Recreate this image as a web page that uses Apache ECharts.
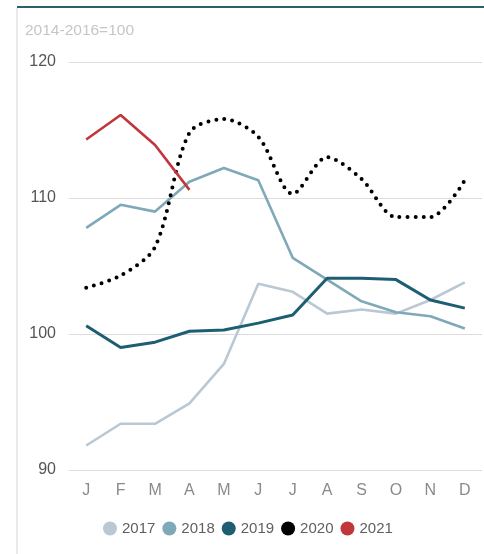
<!DOCTYPE html>
<html>
<head>
<meta charset="utf-8">
<script src="https://cdn.jsdelivr.net/npm/echarts@6/dist/echarts.min.js"></script>
<style>
html,body{margin:0;padding:0;background:#fff;}
#chart{width:484px;height:554px;}
</style>
</head>
<body>
<div id="chart"></div>
<script>
const months = ['J','F','M','A','M','J','J','A','S','O','N','D'];
const yTicks = [90, 100, 110, 120];
const s2017 = [91.8, 93.4, 93.4, 94.9, 97.8, 103.7, 103.1, 101.5, 101.8, 101.5, 102.5, 103.8];
const s2018 = [107.8, 109.5, 109.0, 111.2, 112.2, 111.3, 105.6, 104.0, 102.4, 101.6, 101.3, 100.4];
const s2019 = [100.6, 99.0, 99.4, 100.2, 100.3, 100.8, 101.4, 104.1, 104.1, 104.0, 102.5, 101.9];
const s2020 = [103.4, 104.3, 106.4, 114.8, 115.8, 114.5, 110.3, 113.0, 111.4, 108.6, 108.6, 111.3];
const s2021 = [114.3, 116.1, 113.9, 110.6];
const seriesNames = ['2017', '2018', '2019', '2020', '2021'];
const colors = ['#bac8d3', '#7fa9b8', '#1d5e73', '#000000', '#c0363a'];

const chart = echarts.init(document.getElementById('chart'), null, {renderer: 'canvas'});
const font = 'Liberation Sans, Arial, sans-serif';
function lineSeries(i, data, extra) {
  return Object.assign({
    name: seriesNames[i],
    type: 'line',
    data: data,
    symbol: 'none',
    color: colors[i],
    lineStyle: {color: colors[i], width: 2.6},
    z: 2
  }, extra || {});
}
chart.setOption({
  animation: false,
  backgroundColor: '#fff',
  textStyle: {fontFamily: font},
  grid: {left: 69, right: 2, top: 62, bottom: 84, containLabel: false},
  graphic: [
    {type: 'line', shape: {x1: 17, y1: 7, x2: 484, y2: 7}, style: {stroke: '#2e5e6c', lineWidth: 2}},
    {type: 'line', shape: {x1: 17, y1: 8, x2: 17, y2: 554}, style: {stroke: '#e3e3e3', lineWidth: 1.5}},
    {type: 'text', left: 25, top: 23, style: {text: '2014-2016=100', fill: '#c6c6c6', font: '15.5px ' + font}}
  ],
  legend: {
    left: 98, top: 516,
    icon: 'circle', itemWidth: 14, itemHeight: 14, itemGap: 7,
    textStyle: {fontSize: 15, color: '#606060', fontFamily: font},
    data: seriesNames
  },
  xAxis: {
    type: 'category',
    data: months,
    boundaryGap: true,
    axisLine: {show: false},
    axisTick: {show: false},
    axisLabel: {color: '#8a8a8a', fontSize: 16, margin: 13, fontFamily: font}
  },
  yAxis: {
    type: 'value',
    min: yTicks[0], max: yTicks[yTicks.length - 1], interval: 10,
    axisLine: {show: false},
    axisTick: {show: false},
    axisLabel: {color: '#555', fontSize: 16, margin: 13, fontFamily: font},
    splitLine: {lineStyle: {color: '#dcdcdc', width: 1.2}}
  },
  series: [
    lineSeries(0, s2017),
    lineSeries(1, s2018),
    lineSeries(2, s2019, {lineStyle: {color: colors[2], width: 3}}),
    lineSeries(3, s2020, {smooth: 0.3, lineStyle: {color: colors[3], width: 4, type: [0, 8], cap: 'round'}}),
    lineSeries(4, s2021)
  ]
});
</script>
</body>
</html>
